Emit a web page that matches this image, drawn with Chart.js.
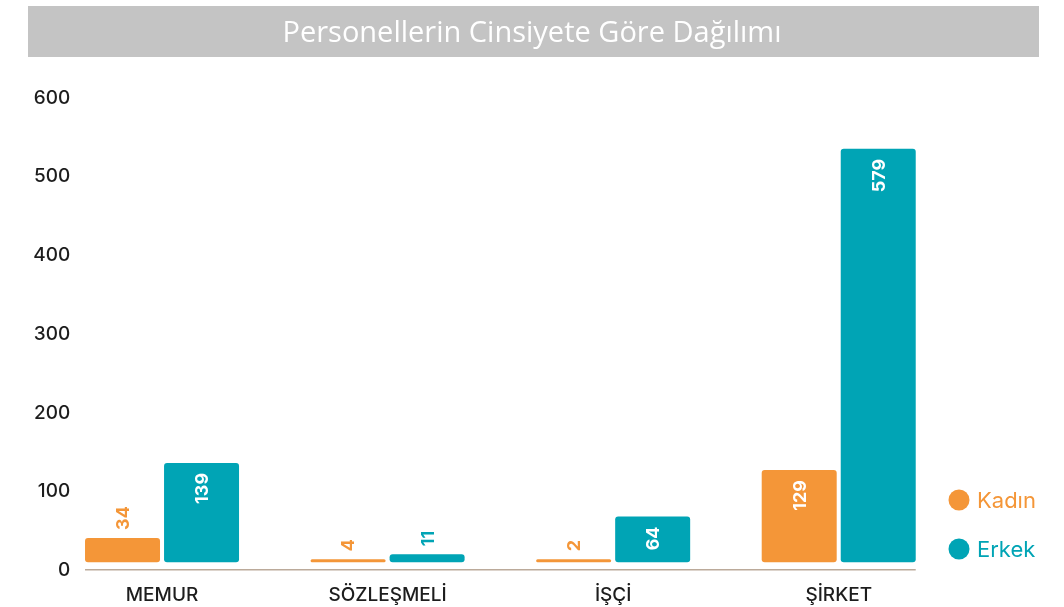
<!DOCTYPE html>
<html>
<head>
<meta charset="utf-8">
<script src="https://cdn.jsdelivr.net/npm/chart.js@4.4.0/dist/chart.umd.min.js"></script>
<style>
html,body{margin:0;padding:0;background:#fff;}
canvas{display:block;}
</style>
</head>
<body>
<canvas id="c" width="1064" height="607"></canvas>
<script>
const titleText = 'Personellerin Cinsiyete Göre Dağılımı';
const categories = ['MEMUR', 'SÖZLEŞMELİ', 'İŞÇİ', 'ŞİRKET'];
const seriesNames = ['Kadın', 'Erkek'];
const kadin = [34, 4, 2, 129];
const erkek = [139, 11, 64, 579];
const yTickLabels = [0, 100, 200, 300, 400, 500, 600];

const ORANGE = '#F49638';
const TEAL = '#00A4B5';
const FONT = 'Inter, "Open Sans", sans-serif';

const bannerPlugin = {
  id: 'banner',
  beforeDraw(chart) {
    const ctx = chart.ctx;
    ctx.save();
    ctx.fillStyle = '#C4C4C4';
    ctx.fillRect(28, 6, 1011, 51);
    ctx.restore();
  }
};

// widen the y-axis label box after layout so right-aligned labels overlapping the plot are not clipped
const yLabelBoxPlugin = {
  id: 'yLabelBox',
  afterLayout(chart) {
    const s = chart.scales.y;
    s.right = s.right + 30;
    s.width = s.right - s.left;
  }
};

const axisLinePlugin = {
  id: 'axisLine',
  beforeDatasetsDraw(chart) {
    const m0 = chart.getDatasetMeta(0).data;
    const m1 = chart.getDatasetMeta(1).data;
    if (!m0.length) return;
    const left = m0[0].x - m0[0].width / 2;
    const right = m1[m1.length - 1].x + m1[m1.length - 1].width / 2;
    const y = chart.chartArea.bottom - 0.5;
    const ctx = chart.ctx;
    ctx.save();
    ctx.strokeStyle = '#BBAA9A';
    ctx.lineWidth = 1.5;
    ctx.beginPath();
    ctx.moveTo(left, y);
    ctx.lineTo(right, y);
    ctx.stroke();
    ctx.restore();
  }
};

const valueLabelPlugin = {
  id: 'valueLabels',
  afterDatasetsDraw(chart) {
    const ctx = chart.ctx;
    ctx.save();
    ctx.font = 'bold 18px ' + FONT;
    ctx.textBaseline = 'middle';
    chart.data.datasets.forEach((ds, di) => {
      const meta = chart.getDatasetMeta(di);
      meta.data.forEach((el, i) => {
        const v = ds.data[i];
        const h = el.base - el.y;
        ctx.save();
        if (h > 40) {
          ctx.translate(el.x, el.y + 10);
          ctx.rotate(-Math.PI / 2);
          ctx.textAlign = 'right';
          ctx.fillStyle = '#FFFFFF';
        } else {
          ctx.translate(el.x, el.y - 8);
          ctx.rotate(-Math.PI / 2);
          ctx.textAlign = 'left';
          ctx.fillStyle = ds.backgroundColor;
        }
        ctx.fillText(String(v), 0, 1);
        ctx.restore();
      });
    });
    ctx.restore();
  }
};

const legendPlugin = {
  id: 'customLegend',
  afterDraw(chart) {
    const ctx = chart.ctx;
    ctx.save();
    ctx.font = '22px ' + FONT;
    ctx.textBaseline = 'middle';
    ctx.textAlign = 'left';
    chart.data.datasets.forEach((ds, i) => {
      const cy = 500 + i * 49;
      ctx.fillStyle = ds.backgroundColor;
      ctx.beginPath();
      ctx.arc(959, cy, 10.5, 0, Math.PI * 2);
      ctx.fill();
      ctx.fillText(ds.label, 977, cy + 1);
    });
    ctx.restore();
  }
};

new Chart(document.getElementById('c'), {
  type: 'bar',
  data: {
    labels: categories,
    datasets: [
      { label: seriesNames[0], data: kadin, backgroundColor: ORANGE, yAxisID: 'y2',
        borderRadius: 3, borderSkipped: false, minBarLength: 3,
        barPercentage: 0.949, categoryPercentage: 0.7007 },
      { label: seriesNames[1], data: erkek, backgroundColor: TEAL, yAxisID: 'y2',
        borderRadius: 3, borderSkipped: false, minBarLength: 3,
        barPercentage: 0.949, categoryPercentage: 0.7007 }
    ]
  },
  options: {
    responsive: false,
    animation: false,
    devicePixelRatio: 1,
    layout: { padding: { top: 6, right: 0, bottom: 0, left: 0 } },
    plugins: {
      legend: { display: false },
      tooltip: { enabled: false },
      title: {
        display: true,
        text: titleText,
        color: '#FFFFFF',
        font: { family: '"Open Sans", sans-serif', size: 29, weight: 'normal', lineHeight: 1.2 },
        padding: { top: 10, bottom: 47.2 }
      }
    },
    scales: {
      x: {
        type: 'category',
        offset: true,
        grid: { display: false, drawTicks: false },
        border: { display: false },
        afterFit(scale) { scale.height = scale.height - 14; },
        ticks: { color: '#1D1D1D', font: { family: FONT, size: 19, weight: '500' }, padding: 14 }
      },
      y: {
        position: 'left',
        min: yTickLabels[0],
        max: yTickLabels[yTickLabels.length - 1],
        afterBuildTicks(scale) { scale.ticks = yTickLabels.map(v => ({ value: v })); },
        afterFit(scale) { scale.width = 49.25; },
        grid: { display: false, drawTicks: false },
        border: { display: false },
        ticks: { color: '#1D1D1D', font: { family: FONT, size: 19, weight: '500' }, padding: 9 }
      },
      y2: {
        position: 'right',
        display: true,
        min: -11.21,
        max: 650,
        afterFit(scale) { scale.width = 112.5; },
        grid: { display: false, drawTicks: false },
        border: { display: false },
        ticks: { display: false }
      }
    }
  },
  plugins: [bannerPlugin, yLabelBoxPlugin, axisLinePlugin, valueLabelPlugin, legendPlugin]
});
</script>
</body>
</html>
